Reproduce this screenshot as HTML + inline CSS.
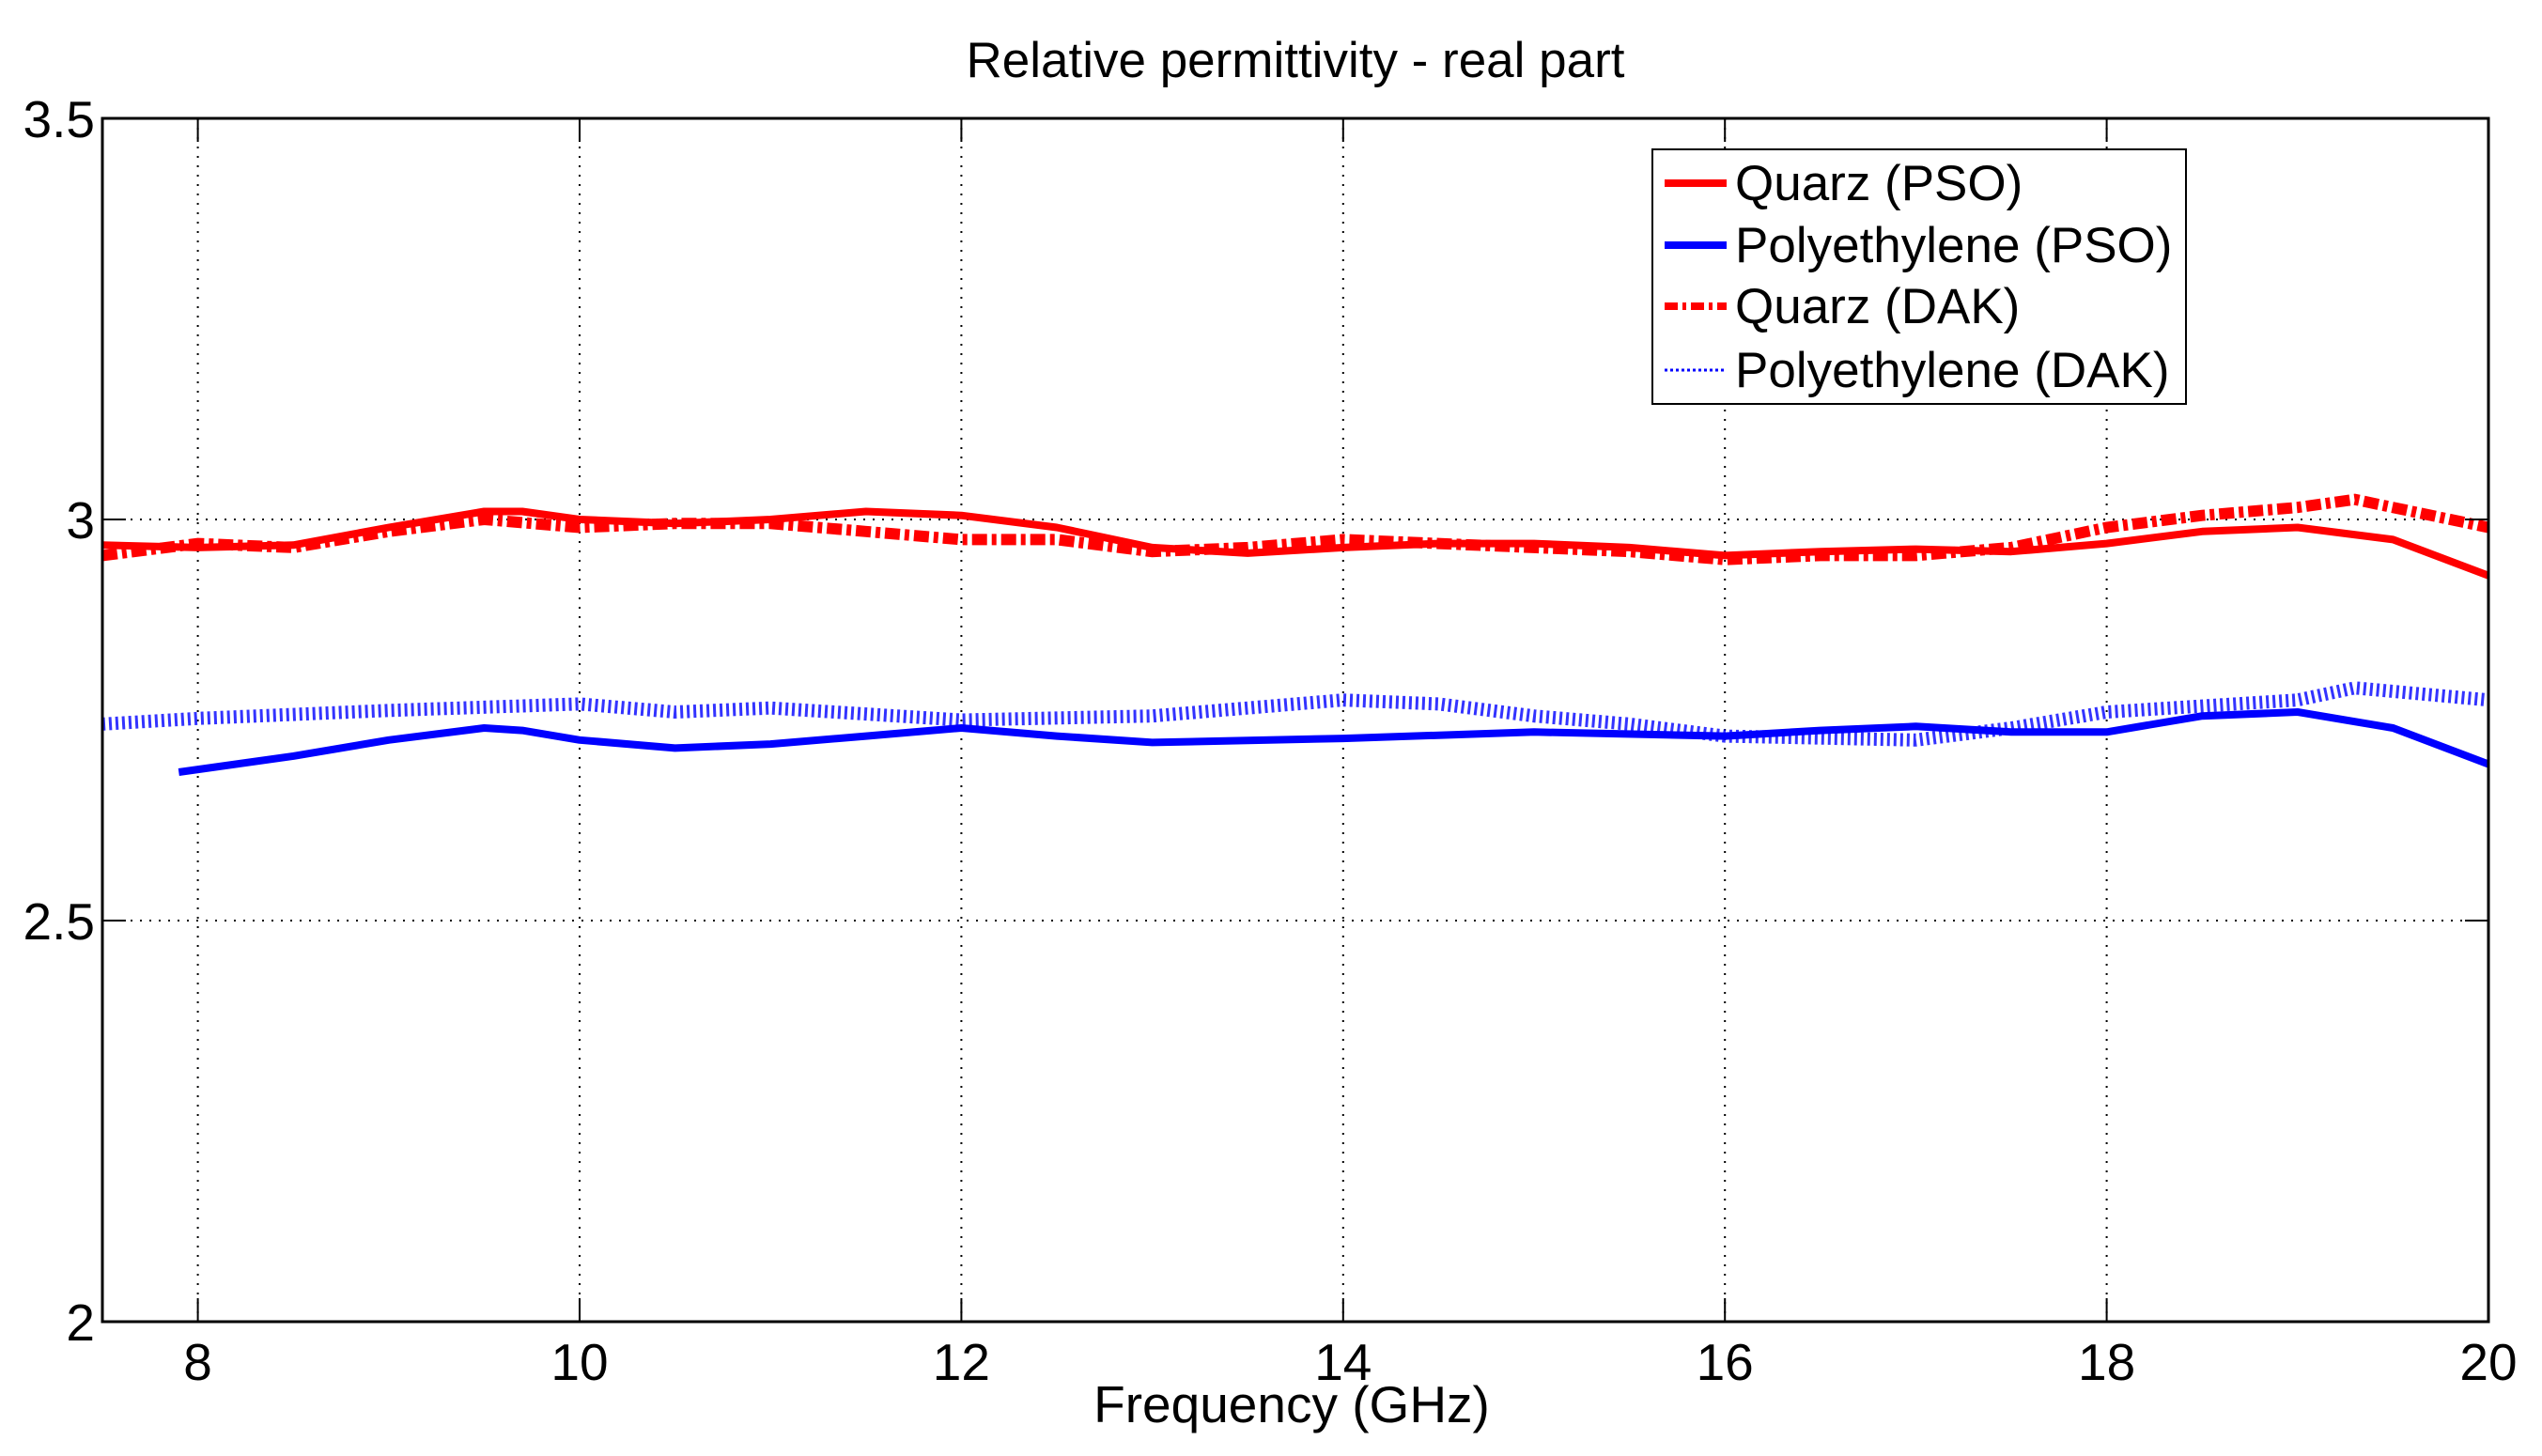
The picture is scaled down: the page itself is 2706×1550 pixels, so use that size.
<!DOCTYPE html>
<html><head><meta charset="utf-8"><style>
body{margin:0;background:#fff}
svg{display:block;font-family:"Liberation Sans",Arial,sans-serif}
</style></head><body>
<svg id="chart" width="2706" height="1550" viewBox="0 0 2706 1550">
<rect width="2706" height="1550" fill="#fff"/>
<g id="grid"></g><g id="series"></g><g id="axes"></g>
<text x="1379" y="82" font-size="53" text-anchor="middle">Relative permittivity - real part</text>
<text x="1375" y="1514" font-size="55" text-anchor="middle">Frequency (GHz)</text>
<g>
<rect x="1759" y="159" width="568" height="271" fill="#fff" stroke="#000" stroke-width="2"/>
<line x1="1772" y1="195" x2="1838" y2="195" stroke="#f00" stroke-width="8"/>
<text x="1847" y="213" font-size="53">Quarz (PSO)</text>
<line x1="1772" y1="261" x2="1838" y2="261" stroke="#00f" stroke-width="8"/>
<text x="1847" y="279" font-size="53">Polyethylene (PSO)</text>
<line x1="1772" y1="326" x2="1838" y2="326" stroke="#f00" stroke-width="8" stroke-dasharray="14 5 4 5"/>
<text x="1847" y="344" font-size="53">Quarz (DAK)</text>
<line x1="1772" y1="394" x2="1838" y2="394" stroke="#00f" stroke-width="3" stroke-dasharray="3 3"/>
<text x="1847" y="412" font-size="53">Polyethylene (DAK)</text>
</g>
</svg>
<script>
const xTicks=[8,10,12,14,16,18,20];
const yTicks=[2,2.5,3,3.5];
const yTickLabels=["2","2.5","3","3.5"];
const qPsoF=[7.5,8,8.5,9,9.5,9.7,10,10.5,11,11.5,12,12.5,13,13.5,14,14.5,15,15.5,16,16.5,17,17.5,18,18.5,19,19.5,20];
const qPsoV=[2.968,2.965,2.968,2.99,3.01,3.01,3.0,2.995,3.0,3.01,3.005,2.99,2.965,2.958,2.965,2.97,2.97,2.965,2.955,2.96,2.963,2.96,2.97,2.985,2.99,2.975,2.93];
const qDakF=[7.5,8,8.5,9,9.5,10,10.5,11,11.5,12,12.5,13,13.5,14,14.5,15,15.5,16,16.5,17,17.5,18,18.5,19,19.3,19.5,20];
const qDakV=[2.955,2.97,2.965,2.985,3.0,2.99,2.995,2.995,2.985,2.975,2.975,2.96,2.965,2.975,2.97,2.965,2.96,2.95,2.955,2.955,2.965,2.99,3.005,3.015,3.025,3.015,2.99];
const pPsoF=[7.9,8.5,9,9.5,9.7,10,10.5,11,11.5,12,12.5,13,14,15,16,16.5,17,17.5,18,18.5,19,19.5,20];
const pPsoV=[2.685,2.705,2.725,2.74,2.737,2.725,2.715,2.72,2.73,2.74,2.73,2.722,2.727,2.735,2.73,2.737,2.742,2.735,2.735,2.755,2.76,2.74,2.695];
const pDakF=[7.5,8,9,10,10.5,11,12,13,14,14.5,15,15.5,16,17,17.5,18,19,19.3,20];
const pDakV=[2.745,2.752,2.762,2.77,2.76,2.765,2.75,2.755,2.775,2.77,2.755,2.745,2.73,2.725,2.74,2.76,2.775,2.79,2.775];
const L=109,R=2649,T=126,B=1407,x0=7.5,x1=20,y0=2,y1=3.5;
const sx=v=>L+(v-x0)/(x1-x0)*(R-L);
const sy=v=>B-(v-y0)/(y1-y0)*(B-T);
const NS="http://www.w3.org/2000/svg";
function mk(t,a,p){const e=document.createElementNS(NS,t);for(const k in a)e.setAttribute(k,a[k]);p.appendChild(e);return e;}
const grid=document.getElementById('grid'),axes=document.getElementById('axes'),ser=document.getElementById('series');
xTicks.forEach(v=>{
 const g=mk('line',{x1:sx(v),x2:sx(v),y1:T,y2:B,stroke:'#000','stroke-width':2,'stroke-dasharray':'2 8'},grid);
 
 
 mk('line',{x1:sx(v),x2:sx(v),y1:T,y2:T+25,stroke:'#000','stroke-width':2},axes);
 mk('line',{x1:sx(v),x2:sx(v),y1:B,y2:B-25,stroke:'#000','stroke-width':2},axes);
 const t=mk('text',{x:sx(v),y:B+62,'font-size':55,'text-anchor':'middle'},axes);t.textContent=v;
 
 
});
yTicks.forEach((v,i)=>{
 if(v>y0&&v<y1){const g=mk('line',{x1:L,x2:R,y1:sy(v),y2:sy(v),stroke:'#000','stroke-width':2,'stroke-dasharray':'2 8'},grid);
 
 }
 mk('line',{x1:L,x2:L+25,y1:sy(v),y2:sy(v),stroke:'#000','stroke-width':2},axes);
 mk('line',{x1:R,x2:R-25,y1:sy(v),y2:sy(v),stroke:'#000','stroke-width':2},axes);
 const t=mk('text',{x:L-8,y:sy(v)+20,'font-size':55,'text-anchor':'end'},axes);t.textContent=yTickLabels[i];
 
 
});
const fr=mk('rect',{x:L,y:T,width:R-L,height:B-T,fill:'none',stroke:'#000','stroke-width':3},axes);


function path(F,V){return F.map((f,i)=>(i?'L':'M')+sx(f).toFixed(1)+' '+sy(V[i]).toFixed(1)).join(' ');}
const p1=mk('path',{d:path(pDakF,pDakV),fill:'none',stroke:'#00f','stroke-width':14,'stroke-dasharray':'3 4',opacity:0.8},ser);


const p2=mk('path',{d:path(qDakF,qDakV),fill:'none',stroke:'#f00','stroke-width':12,'stroke-dasharray':'16 5 5 5'},ser);


const p3=mk('path',{d:path(qPsoF,qPsoV),fill:'none',stroke:'#f00','stroke-width':8,'stroke-linejoin':'round'},ser);


const p4=mk('path',{d:path(pPsoF,pPsoV),fill:'none',stroke:'#00f','stroke-width':8,'stroke-linejoin':'round'},ser);


</script>
</body></html>
